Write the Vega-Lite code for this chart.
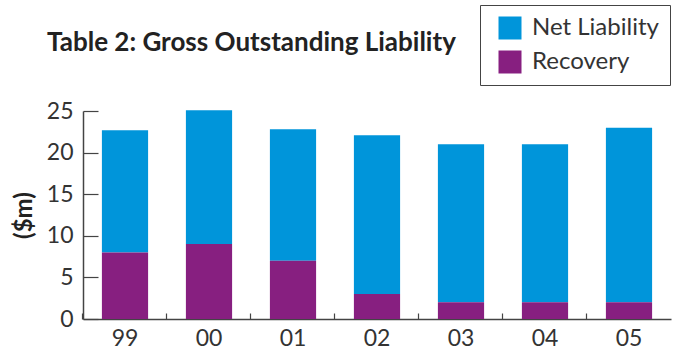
{
  "$schema": "https://vega.github.io/schema/vega-lite/v6.json",
  "width": 588,
  "height": 208,
  "autosize": "none",
  "padding": {"left": 83, "top": 111, "right": 2, "bottom": 33},
  "background": "white",
  "title": {
    "text": "Table 2: Gross Outstanding Liability",
    "anchor": "start",
    "frame": "group",
    "dx": -36,
    "offset": -51,
    "fontSize": 26,
    "font": "Lato",
    "fontWeight": "bold",
    "color": "#222222"
  },
  "data": {
    "values": [
      {"year": "99", "series": "Net Liability", "value": 14.7},
      {"year": "99", "series": "Recovery", "value": 8},
      {"year": "00", "series": "Net Liability", "value": 16.1},
      {"year": "00", "series": "Recovery", "value": 9},
      {"year": "01", "series": "Net Liability", "value": 15.8},
      {"year": "01", "series": "Recovery", "value": 7},
      {"year": "02", "series": "Net Liability", "value": 19.1},
      {"year": "02", "series": "Recovery", "value": 3},
      {"year": "03", "series": "Net Liability", "value": 19},
      {"year": "03", "series": "Recovery", "value": 2},
      {"year": "04", "series": "Net Liability", "value": 19},
      {"year": "04", "series": "Recovery", "value": 2},
      {"year": "05", "series": "Net Liability", "value": 21},
      {"year": "05", "series": "Recovery", "value": 2}
    ]
  },
  "mark": {"type": "bar"},
  "encoding": {
    "x": {
      "field": "year",
      "type": "ordinal",
      "sort": null,
      "scale": {"paddingInner": 0.45, "paddingOuter": 0.225},
      "axis": {
        "title": null,
        "labelAngle": 0,
        "labelFont": "Lato",
        "labelFontSize": 23,
        "labelColor": "#333333",
        "labelPadding": 14,
        "domainColor": "#444444",
        "domainWidth": 1.5,
        "tickColor": "#444444",
        "tickSize": -6,
        "tickWidth": 1.2,
        "bandPosition": -0.41
      }
    },
    "y": {
      "field": "value",
      "type": "quantitative",
      "stack": "zero",
      "scale": {"domain": [0, 25], "nice": false},
      "axis": {
        "title": "($m)",
        "titleFont": "Lato",
        "titleFontSize": 24,
        "titleFontWeight": "bold",
        "titleColor": "#222222",
        "titlePadding": 10,
        "values": [0, 5, 10, 15, 20, 25],
        "grid": false,
        "labelFont": "Lato",
        "labelFontSize": 23,
        "labelColor": "#333333",
        "labelPadding": 25,
        "domainColor": "#444444",
        "domainWidth": 1.5,
        "tickColor": "#444444",
        "tickSize": -15,
        "tickWidth": 1.2
      }
    },
    "color": {
      "field": "series",
      "type": "nominal",
      "scale": {"domain": ["Net Liability", "Recovery"], "range": ["#0095DA", "#871F80"]},
      "legend": {
        "title": null,
        "orient": "none",
        "legendX": 397,
        "legendY": -106,
        "padding": 11,
        "fillColor": "white",
        "strokeColor": "#444444",
        "symbolType": "square",
        "symbolSize": 529,
        "symbolStrokeWidth": 0,
        "symbolOpacity": 1,
        "symbolOffset": 7,
        "labelFont": "Lato",
        "labelFontSize": 24,
        "labelColor": "#333333",
        "labelOffset": 10,
        "rowPadding": 10
      }
    },
    "order": {"field": "series", "sort": "descending"}
  },
  "config": {"view": {"stroke": null}}
}
